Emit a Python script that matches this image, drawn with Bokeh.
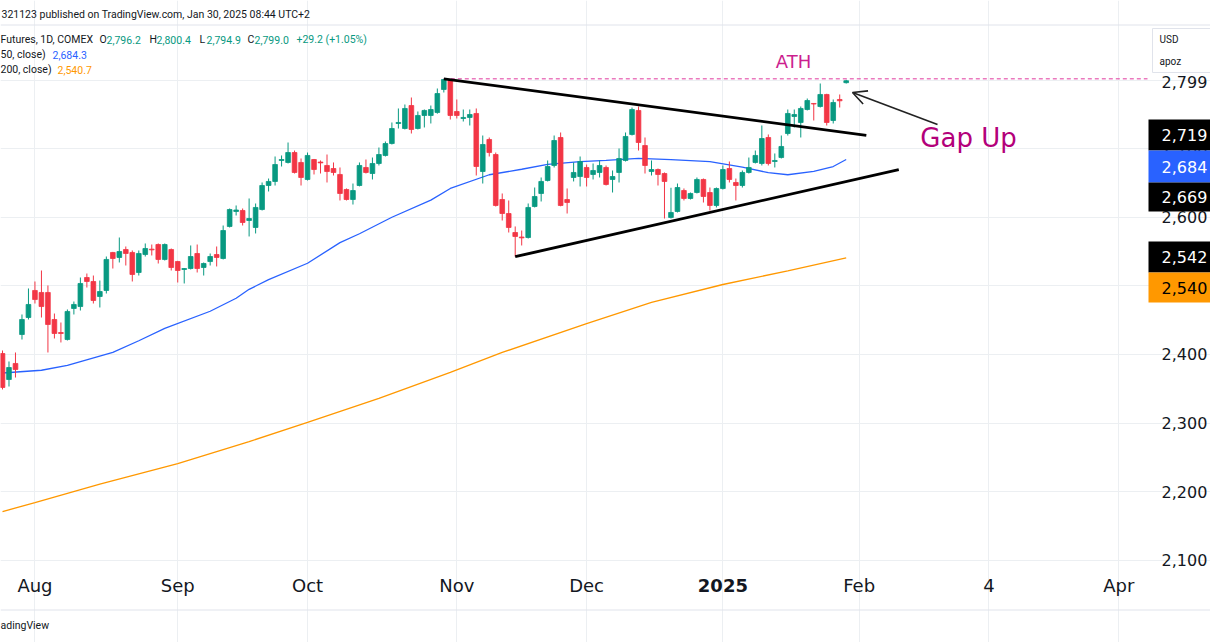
import numpy as np
from bokeh.plotting import figure
from bokeh.models import Range1d, FixedTicker, Arrow, OpenHead, ColumnDataSource, Grid
from bokeh.core.properties import value
from bokeh.embed import file_html
from bokeh.resources import INLINE

# ---------------- data ----------------
opens = [2401.4, 2363.5, 2386.9, 2429.1, 2453.9, 2493.3, 2490.4, 2490.4, 2451.0, 2432.0,
         2421.8, 2467.0, 2469.9, 2512.2, 2506.4, 2484.5, 2493.3, 2548.7, 2541.4, 2553.0,
         2548.7, 2519.5, 2545.7, 2553.5, 2560.3, 2538.5, 2553.0, 2535.5, 2523.9, 2525.3,
         2547.2, 2526.8, 2535.5, 2545.7, 2539.9, 2586.6, 2608.4, 2609.9, 2595.3, 2585.1,
         2611.3, 2646.3, 2652.2, 2682.8, 2679.9, 2694.4, 2679.9, 2655.1, 2684.2, 2680.5,
         2675.5, 2671.1, 2662.4, 2640.5, 2625.9, 2646.3, 2672.6, 2663.8, 2678.4, 2690.1,
         2707.5, 2736.7, 2729.4, 2762.9, 2729.4, 2748.4, 2748.4, 2752.7, 2786.3, 2799.4,
         2754.2, 2744.0, 2745.5, 2751.3, 2666.7, 2713.4, 2691.5, 2625.9, 2605.5, 2577.8,
         2571.2, 2570.5, 2615.7, 2634.7, 2653.6, 2675.5, 2716.3, 2625.9, 2658.0, 2659.4,
         2672.6, 2662.4, 2665.3, 2672.6, 2655.1, 2665.3, 2682.8, 2720.7, 2755.7, 2704.6,
         2666.7, 2669.6, 2663.8, 2599.7, 2608.4, 2639.0, 2627.4, 2636.1, 2655.1, 2636.1,
         2617.2, 2641.9, 2671.1, 2650.7, 2646.3, 2665.3, 2679.9, 2678.4, 2716.3, 2681.3,
         2687.1, 2722.1, 2746.9, 2738.2, 2757.1, 2765.9, 2761.5, 2779.0, 2741.1, 2771.7,
         2796.2]
highs = [2405.8, 2389.8, 2402.9, 2458.3, 2496.2, 2506.4, 2522.4, 2500.6, 2459.7, 2446.6,
         2465.6, 2477.2, 2512.2, 2518.0, 2515.1, 2507.8, 2542.8, 2549.5, 2570.5, 2557.4,
         2551.6, 2551.6, 2561.8, 2560.3, 2561.8, 2561.8, 2554.5, 2536.5, 2526.0, 2558.9,
         2560.3, 2534.1, 2547.2, 2557.4, 2588.0, 2612.8, 2617.2, 2612.8, 2627.4, 2620.1,
         2650.7, 2656.5, 2688.6, 2690.1, 2709.0, 2697.3, 2685.7, 2694.4, 2685.0, 2682.8,
         2691.5, 2679.9, 2672.6, 2642.0, 2649.2, 2679.9, 2684.2, 2687.1, 2701.7, 2710.5,
         2738.2, 2758.6, 2764.4, 2774.6, 2754.2, 2757.1, 2762.9, 2787.7, 2801.8, 2800.8,
         2771.7, 2757.1, 2757.1, 2758.6, 2719.2, 2716.3, 2694.4, 2634.7, 2624.5, 2586.6,
         2580.7, 2620.1, 2643.4, 2658.0, 2682.8, 2719.2, 2723.6, 2642.0, 2679.9, 2688.6,
         2676.9, 2678.4, 2682.8, 2675.5, 2668.2, 2700.3, 2723.6, 2760.0, 2761.5, 2716.3,
         2682.8, 2671.1, 2665.3, 2643.0, 2649.2, 2642.0, 2636.1, 2658.0, 2656.5, 2643.4,
         2643.4, 2675.5, 2681.3, 2656.5, 2668.2, 2687.1, 2697.3, 2733.8, 2720.7, 2693.0,
         2719.2, 2757.1, 2757.1, 2761.5, 2773.1, 2766.5, 2795.0, 2780.0, 2771.7, 2779.0,
         2800.4]
lows = [2349.0, 2353.3, 2366.4, 2421.8, 2451.0, 2474.3, 2453.9, 2402.9, 2423.3, 2417.5,
        2420.4, 2458.3, 2464.1, 2497.6, 2474.3, 2468.5, 2488.9, 2525.3, 2534.1, 2529.7,
        2506.4, 2515.1, 2542.8, 2544.3, 2532.6, 2537.0, 2522.4, 2504.9, 2503.5, 2523.9,
        2519.5, 2515.1, 2529.7, 2528.3, 2538.5, 2585.1, 2602.6, 2588.0, 2572.0, 2576.4,
        2609.9, 2637.6, 2646.3, 2674.0, 2678.4, 2663.8, 2646.3, 2653.6, 2662.4, 2663.8,
        2650.7, 2660.9, 2624.5, 2624.5, 2618.6, 2645.0, 2663.8, 2655.1, 2675.5, 2688.6,
        2706.1, 2729.4, 2728.0, 2722.1, 2728.0, 2730.9, 2736.7, 2751.0, 2781.9, 2742.5,
        2744.0, 2739.6, 2733.8, 2660.9, 2649.2, 2688.6, 2615.7, 2595.3, 2577.8, 2542.5,
        2558.9, 2569.0, 2614.3, 2623.0, 2652.2, 2672.6, 2616.0, 2605.5, 2652.2, 2644.9,
        2644.9, 2655.1, 2658.0, 2646.3, 2636.1, 2650.7, 2681.3, 2719.2, 2697.3, 2663.8,
        2660.9, 2646.3, 2598.2, 2598.2, 2607.0, 2624.5, 2625.9, 2634.7, 2621.5, 2609.9,
        2614.3, 2640.5, 2650.7, 2624.5, 2643.4, 2663.8, 2678.4, 2675.5, 2675.5, 2672.6,
        2685.7, 2719.2, 2730.9, 2716.3, 2755.7, 2741.1, 2760.0, 2733.8, 2736.7, 2760.0,
        2794.9]
closes = [2351.9, 2381.0, 2378.1, 2451.0, 2472.9, 2480.1, 2469.9, 2443.7, 2430.6, 2430.6,
          2462.7, 2472.9, 2503.5, 2506.4, 2478.7, 2491.8, 2538.5, 2539.9, 2550.1, 2547.2,
          2516.6, 2547.2, 2554.5, 2552.5, 2538.5, 2560.3, 2526.8, 2522.4, 2525.3, 2542.8,
          2525.3, 2532.6, 2542.8, 2541.4, 2580.7, 2611.3, 2610.6, 2592.4, 2598.2, 2614.3,
          2646.3, 2652.2, 2676.9, 2684.2, 2694.4, 2665.3, 2658.0, 2690.1, 2669.6, 2679.3,
          2666.7, 2665.3, 2634.7, 2625.9, 2639.0, 2675.5, 2665.3, 2678.4, 2691.5, 2707.5,
          2729.4, 2738.2, 2758.6, 2728.0, 2748.4, 2755.7, 2757.1, 2780.4, 2800.8, 2748.4,
          2748.4, 2745.5, 2749.8, 2674.0, 2706.1, 2694.4, 2617.2, 2605.5, 2585.1, 2572.0,
          2570.0, 2614.3, 2630.3, 2652.2, 2674.0, 2711.9, 2617.2, 2621.5, 2665.3, 2681.3,
          2658.0, 2668.2, 2675.5, 2647.8, 2659.4, 2685.7, 2717.8, 2757.1, 2709.0, 2675.5,
          2669.6, 2662.4, 2652.2, 2607.0, 2643.4, 2627.4, 2634.7, 2655.1, 2630.3, 2617.2,
          2641.9, 2669.6, 2655.1, 2646.3, 2665.3, 2672.6, 2690.1, 2714.8, 2678.4, 2682.8,
          2703.2, 2751.3, 2749.8, 2758.6, 2770.2, 2765.1, 2779.0, 2738.2, 2767.3, 2769.8,
          2799.0]

sma50_idx = [0, 6, 10, 17, 21, 25, 32, 36, 38, 41, 47, 52, 55, 60, 66, 69, 75, 80, 84,
             89, 93, 98, 103, 109, 114, 118, 121, 125, 128, 130]
sma50_val = [2373, 2377, 2384, 2403, 2420, 2438, 2463, 2482, 2495, 2509, 2533, 2563, 2576,
             2600, 2625, 2642, 2662, 2670, 2677, 2681, 2683, 2686, 2684, 2681, 2673, 2665,
             2662, 2667, 2674, 2684.3]
sma200_idx = [0, 5, 15, 27, 38, 47, 58, 69, 77, 90, 100, 111, 121, 130]
sma200_val = [2171, 2184, 2211, 2241, 2273, 2301, 2336, 2374, 2403, 2445, 2476, 2502, 2522, 2540.7]

upper_x, upper_y = [68, 133.1], [2801.8, 2719.4]     # descending trendline
lower_x, lower_y = [79, 138.1], [2542.5, 2669.6]     # ascending trendline
ath_price = 2801.8

month_idx = [5, 27, 47, 70, 90, 111, 132, 152, 172]
month_labels = ["Aug", "Sep", "Oct", "Nov", "Dec", "2025", "Feb", "4", "Apr"]
price_ticks = [2100, 2200, 2300, 2400, 2500, 2600, 2700, 2800]

last = dict(o=2796.2, h=2800.4, l=2794.9, c=2799.0, chg=29.2, pct=1.05)
sma50_last, sma200_last = 2684.3, 2540.7

# ---------------- layout helpers (screenshot pixel geometry) ----------------
W, H = 1210, 642
BAR0_PX, BAR_PX = 2.0, 6.49
TOP_PRICE, PX_PER_USD = 2916.0, 0.686
FR_RIGHT, FR_TOP, FR_BOTTOM = 1147, 25, 568

def xd(px):
    return (px - BAR0_PX) / BAR_PX

def yd(py):
    return TOP_PRICE - py / PX_PER_USD

GREEN, RED = "#089981", "#f23645"
BLUE, ORANGE = "#2962ff", "#ff9800"
DARK = "#131722"
MAG = "#cc1f8f"
FONT = value("DejaVu Sans")
HFONT = value("Roboto")

p = figure(width=W, height=H, x_range=Range1d(xd(0), xd(W)), y_range=Range1d(yd(H), yd(0)),
           output_backend="svg", toolbar_location=None, min_border=0,
           x_axis_location=None, y_axis_location=None)
p.outline_line_color = None
p.background_fill_color = "white"
p.border_fill_color = "white"
p.grid.visible = False

gx = Grid(dimension=0, ticker=FixedTicker(ticks=month_idx), grid_line_color="#eceff2",
          bounds=(yd(FR_BOTTOM), yd(FR_TOP)))
gy = Grid(dimension=1, ticker=FixedTicker(ticks=price_ticks), grid_line_color="#eceff2",
          bounds=(xd(0), xd(FR_RIGHT)))
p.add_layout(gx)
p.add_layout(gy)

# separators
p.segment(x0=[xd(0), xd(0)], x1=[xd(W), xd(W)], y0=[yd(24.5), yd(609.5)], y1=[yd(24.5), yd(609.5)],
          line_color="#e0e3eb", line_width=1)

# moving averages
p.line(sma200_idx, sma200_val, line_color=ORANGE, line_width=1.3)
p.line(sma50_idx, sma50_val, line_color=BLUE, line_width=1.3)

# candles
o = np.array(opens); hi = np.array(highs); lo = np.array(lows); c = np.array(closes)
idx = np.arange(len(c))
up = c >= o
for mask, col in ((up, GREEN), (~up, RED)):
    src = ColumnDataSource(dict(x=idx[mask], h=hi[mask], l=lo[mask],
                                top=np.maximum(o, c)[mask], bot=np.minimum(o, c)[mask]))
    p.segment(x0="x", y0="l", x1="x", y1="h", source=src, line_color=col, line_width=1)
    p.vbar(x="x", width=0.72, top="top", bottom="bot", source=src, fill_color=col,
           line_color=col, line_width=0.8)

# ATH dashed line, trendlines
p.segment(x0=[upper_x[0]], x1=[xd(FR_RIGHT)], y0=[ath_price], y1=[ath_price],
          line_color="#e0389f", line_width=1, line_dash="4 3")
p.line(upper_x, upper_y, line_color="black", line_width=2.8)
p.line(lower_x, lower_y, line_color="black", line_width=2.8)

p.add_layout(Arrow(end=OpenHead(size=14, line_color="#222222", line_width=1.6),
                   x_start=xd(937), y_start=yd(124), x_end=xd(852), y_end=yd(92),
                   line_color="#222222", line_width=1.6))

def txt(px, py, s, size, color, align="left", style="normal", font=FONT):
    p.text(x=[xd(px)], y=[yd(py)], text=[s], text_font=font, text_font_size=size,
           text_color=color, text_align=align, text_baseline="middle", text_font_style=style)

txt(793, 61, "ATH", "18px", MAG, "center")
txt(968, 137, "Gap Up", "26px", "#b3007a", "center")

# header
HS = "10.5px"
txt(1, 14, "321123 published on TradingView.com, Jan 30, 2025 08:44 UTC+2", HS, DARK, font=HFONT)
txt(0, 39, "Futures, 1D, COMEX", HS, DARK, font=HFONT)
for lab, val, x0 in (("O", last["o"], 99), ("H", last["h"], 149), ("L", last["l"], 199), ("C", last["c"], 247)):
    txt(x0, 39, lab, HS, DARK, font=HFONT)
    txt(x0 + 7, 39, f"{val:,.1f}", HS, GREEN, font=HFONT)
txt(296, 39, f"+{last['chg']:.1f} (+{last['pct']:.2f}%)", HS, GREEN, font=HFONT)
txt(0, 54, "50, close)", HS, DARK, font=HFONT)
txt(52, 54, f"{sma50_last:,.1f}", HS, BLUE, font=HFONT)
txt(0, 69, "200, close)", HS, DARK, font=HFONT)
txt(57, 69, f"{sma200_last:,.1f}", HS, ORANGE, font=HFONT)

# price scale (right)
PS = "16px"
for t in price_ticks[:-1]:
    p.text(x=[xd(1161)], y=[t], text=[f"{t:,}"], text_font=FONT, text_font_size=PS,
           text_color=DARK, text_align="left", text_baseline="middle")
txt(1161, 81, f"{int(last['c']):,}", PS, DARK)

boxes = [(upper_y[1], "black", "white", 119, 150),
         (sma50_last, BLUE, "white", 150, 182),
         (lower_y[1], "black", "white", 182, 211),
         (lower_y[0], "black", "white", 241, 272),
         (sma200_last, ORANGE, "black", 272, 302)]
for val, fill, tcol, t_px, b_px in boxes:
    p.quad(left=[xd(1148)], right=[xd(1220)], top=[yd(t_px)], bottom=[yd(b_px)],
           fill_color=fill, line_color=None)
    txt(1161, (t_px + b_px) / 2, f"{int(val):,}", PS, tcol)

# currency box
p.quad(left=[xd(1152)], right=[xd(1225)], top=[yd(28)], bottom=[yd(72)],
       fill_color="white", line_color="#e0e3eb", line_width=1)
txt(1159, 39, "USD", "10px", DARK, font=HFONT)
txt(1159, 61, "apoz", "10px", DARK, font=HFONT)

# time scale (bottom)
for i, lab in zip(month_idx, month_labels):
    p.text(x=[i], y=[yd(585)], text=[lab], text_font=FONT, text_font_size="18px",
           text_color=DARK, text_align="center", text_baseline="middle",
           text_font_style="bold" if lab == "2025" else "normal")

txt(0, 625, "adingView", "10.5px", DARK, font=HFONT)

open("out.html", "w").write(file_html(p, INLINE))
